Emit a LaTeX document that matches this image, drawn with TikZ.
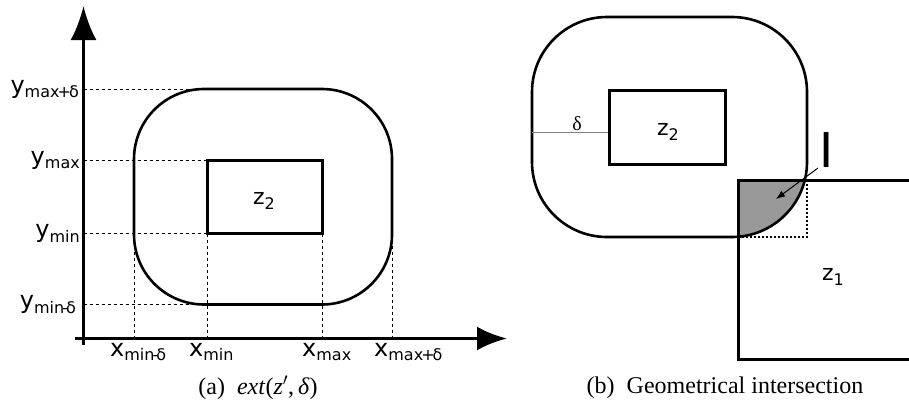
\documentclass[tikz,border=0pt]{standalone}
\usepackage{fontspec}
\setmainfont{Liberation Serif}
\newfontfamily\dv{DejaVu Sans}
\usetikzlibrary{arrows.meta}
\newcommand\sbx[1]{\raisebox{-4.5pt}{\fontsize{16}{17}\selectfont #1}}
\tikzset{
  axisline/.style={line width=3.5pt},
  guide/.style={line width=0.9pt, dash pattern=on 3pt off 3pt},
  outerline/.style={line width=2.6pt},
  zonebox/.style={draw, line width=3pt, inner sep=0pt},
  lbl/.style={font=\dv\fontsize{24}{26}\selectfont, inner sep=0pt},
  zlbl/.style={font=\dv\fontsize{22}{24}\selectfont, inner sep=0pt},
  capt/.style={font=\fontsize{24}{26}\selectfont, inner sep=0pt}
}
\begin{document}
\begin{tikzpicture}[x=1pt,y=-1pt]
\useasboundingbox (0,0) rectangle (909,407);
% ---------- panel (a) ----------
\coordinate (ybot) at (83.5,345);
\coordinate (ytip) at (83.5,6);
\coordinate (xleft) at (75,338.5);
\coordinate (xtip) at (507,338.5);
% guides
\draw[guide] (83.5,89) -- (197,89);
\draw[guide] (83.5,160) -- (207,160);
\draw[guide] (83.5,233.5) -- (207,233.5);
\draw[guide] (83.5,304.5) -- (197,304.5);
\draw[guide] (134,233.5) -- (134,338.5);
\draw[guide] (207,233.5) -- (207,338.5);
\draw[guide] (322,233.5) -- (322,338.5);
\draw[guide] (392,233.5) -- (392,338.5);
% axes
\draw[axisline,-{Latex[length=34pt,width=26pt]}] (ybot) -- (ytip);
\draw[axisline,-{Latex[length=30pt,width=24pt]}] (xleft) -- (xtip);
% extended zone
\draw[outerline, rounded corners=70pt] (134,89) rectangle (392,304.5);
\node[zonebox, minimum width=115pt, minimum height=73.5pt] (za) at (264.5,196.75) {};
\node[zlbl] (zal) at (264,201) {z\sbx{2}};
% axis labels
\node[lbl, anchor=base east] (ymd) at (79,93) {y\sbx{max\kern-2pt+\kern-2ptδ}};
\node[lbl, anchor=base east] (ymx) at (80,164) {y\sbx{max}};
\node[lbl, anchor=base east] (ymn) at (80,237.5) {y\sbx{min}};
\node[lbl, anchor=base east] (ymnd) at (76,308.5) {y\sbx{min\kern-2pt-\kern-2ptδ}};
\node[lbl, anchor=base west] (xmnd) at (110,356) {x\sbx{min\kern-2pt-\kern-2ptδ}};
\node[lbl, anchor=base west] (xmn) at (189,356) {x\sbx{min}};
\node[lbl, anchor=base west] (xmx) at (302,356) {x\sbx{max}};
\node[lbl, anchor=base west] (xmxd) at (374,356) {x\sbx{max\kern-2pt+\kern-2ptδ}};
\node[capt] (capa) at (258,388) {(a)\enspace\textit{ext}(\textit{z}$'$,\,\textit{δ})};
% ---------- panel (b) ----------
\begin{scope}
  \clip (738,180) rectangle (807,237);
  \fill[black!40] (532,17) [rounded corners=75pt] rectangle (807,237);
\end{scope}
\draw[outerline, rounded corners=75pt] (532,17) rectangle (807,237);
\draw[line width=2pt, dash pattern=on 2pt off 2pt] (807,180) -- (807,237) -- (738,237);
\draw[line width=3pt] (911,180) -- (738,180) -- (738,359) -- (911,359);
\node[zonebox, minimum width=116pt, minimum height=74pt] (zb) at (667,127) {};
\coordinate (dstart) at (532,132.7);
\draw[black!50, line width=1pt] (dstart) -- (dstart -| zb.west);
\node[font=\fontsize{20}{22}\selectfont, inner sep=0pt] (dl) at (577,124) {δ};
\node[zlbl] (zbl) at (668,132) {z\sbx{2}};
\node[zlbl] (z1l) at (833,277) {z\sbx{1}};
\node[font=\dv\fontsize{48}{50}\selectfont, inner sep=0pt] (Il) at (827,150) {I};
\coordinate (Ifoot) at (818,168);
\coordinate (Ihit) at (776,199);
\draw[line width=1pt, -{Latex[length=9pt,width=7pt]}] (Ifoot) -- (Ihit);
\node[capt] (capb) at (725,388) {(b)\enspace Geometrical intersection};
\end{tikzpicture}
\end{document}
